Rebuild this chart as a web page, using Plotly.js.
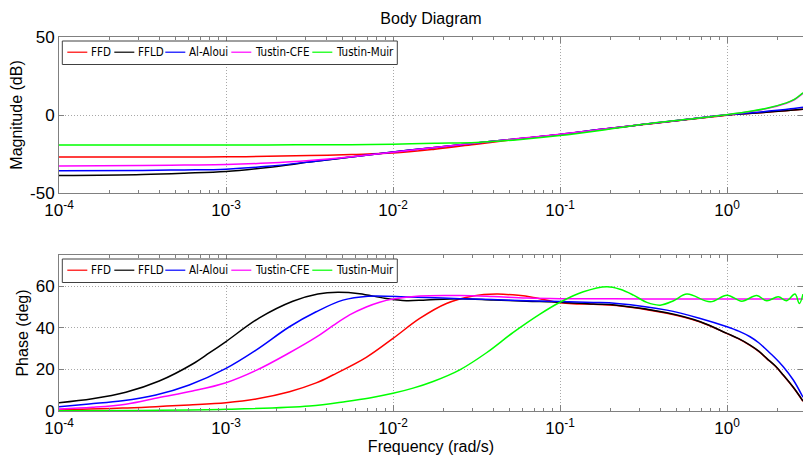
<!DOCTYPE html>
<html><head><meta charset="utf-8">
<script src="https://cdn.plot.ly/plotly-3.0.1.min.js"></script>
<style>html,body{margin:0;padding:0;background:#fff}#chart{width:803px;height:463px}</style>
</head><body><div id="chart"></div>
<script>
// ---- data ----
const seriesNames = ['FFD', 'FFLD', 'Al-Aloui', 'Tustin-CFE', 'Tustin-Muir'];
const seriesColors = ['#ff0000', '#000000', '#0000ff', '#ff00ff', '#00ff00'];

const xTickLogs = [-4, -3, -2, -1, 0];
const xTickText = ['10<sup>-4</sup>', '10<sup>-3</sup>', '10<sup>-2</sup>', '10<sup>-1</sup>', '10<sup>0</sup>'];
const magTickVals = [-50, 0, 50];
const magTickText = ['-50', '0', '50'];
const phaseTickVals = [0, 20, 40, 60];
const phaseTickText = ['0', '20', '40', '60'];

// magnitude (dB) on a shared log10(frequency) grid
const magLogW = [-4, -3.5, -3.25, -3, -2.75, -2.5, -2.25, -2, -1.75, -1.5, -1.25, -1, -0.75, -0.5, -0.25, 0, 0.15, 0.25, 0.35, 0.4, 0.455];
const magFFD        = [-27.0, -27.0, -26.9, -26.8, -26.5, -26.0, -25.3, -24.4, -21.9, -18.7, -15.4, -12.6, -9.3, -6.1, -3.1, -0.1, 1.1, 1.9, 2.8, 3.2, 3.7];
const magFFLD       = [-38.8, -38.1, -37.3, -36.2, -33.6, -30.2, -26.9, -23.7, -20.8, -17.9, -15.2, -12.5, -9.2, -6.0, -3.0, 0.0, 1.1, 1.9, 2.8, 3.2, 3.7];
const magAlAloui    = [-35.7, -35.5, -35.2, -34.7, -32.9, -30.1, -26.9, -23.7, -20.8, -17.9, -15.2, -12.5, -9.2, -6.0, -2.9, 0.1, 1.5, 2.5, 3.6, 4.2, 4.9];
const magTustinCFE  = [-32.7, -32.4, -32.1, -31.8, -30.8, -29.2, -26.8, -23.9, -20.9, -17.9, -15.1, -12.4, -9.2, -6.0, -2.9, 0.2, 2.4, 4.4, 7.4, 9.6, 14.0];
const magTustinMuir = [-19.2, -19.2, -19.2, -19.2, -19.2, -19.1, -19.0, -18.7, -18.1, -17.6, -15.8, -13.2, -9.8, -6.0, -2.9, 0.2, 2.5, 4.6, 7.6, 9.8, 14.2];

// phase (deg), each series on its own log10(frequency) grid
const phFFDLogW  = [-4, -3.82, -3.62, -3.42, -3.22, -3.0, -2.82, -2.62, -2.46, -2.36, -2.16, -2.0, -1.84, -1.68, -1.52, -1.38, -1.25, -1.16, -1.0, -0.9, -0.8, -0.66, -0.36, -0.16, 0, 0.07, 0.138, 0.19, 0.238, 0.29, 0.337, 0.397, 0.455];
const phFFD      = [0.5, 1.0, 1.4, 2.1, 2.9, 4.0, 5.8, 9.3, 13.5, 17.3, 25.8, 34.9, 44.5, 51.7, 55.3, 56.2, 55.6, 54.6, 52.0, 51.5, 51.3, 50.7, 47.0, 42.8, 37.2, 34.7, 31.6, 28.7, 25.2, 21.5, 17.2, 11.3, 4.7];
const phFFLDLogW = [-4, -3.8, -3.6, -3.4, -3.2, -3.1, -3.0, -2.8, -2.6, -2.45, -2.33, -2.2, -2.05, -1.92, -1.8, -1.6, -1.4, -1.2, -1.0, -0.8, -0.66, -0.36, -0.16, 0, 0.07, 0.138, 0.19, 0.238, 0.29, 0.337, 0.397, 0.455];
const phFFLD     = [4.0, 5.9, 9.0, 14.4, 22.6, 27.9, 33.4, 44.8, 52.8, 56.3, 57.1, 56.4, 54.2, 53.0, 53.4, 54.0, 53.4, 52.8, 52.3, 51.4, 50.9, 47.2, 42.9, 37.3, 34.8, 31.7, 28.8, 25.3, 21.6, 17.3, 11.4, 4.8];
const phAlAlouiLogW = [-4, -3.82, -3.62, -3.42, -3.22, -3.0, -2.82, -2.62, -2.46, -2.3, -2.15, -1.9, -1.6, -1.3, -1.0, -0.8, -0.66, -0.36, -0.16, 0, 0.07, 0.138, 0.19, 0.238, 0.29, 0.337, 0.397, 0.455];
const phAlAloui     = [2.1, 3.4, 4.9, 7.7, 12.5, 20.5, 29.3, 40.5, 47.7, 53.3, 55.2, 54.8, 54.0, 53.3, 52.6, 52.2, 51.7, 48.5, 44.5, 40.5, 38.4, 35.7, 32.8, 29.3, 25.4, 21.3, 14.9, 6.6];
const phTustinCFELogW = [-4, -3.8, -3.6, -3.4, -3.2, -3.0, -2.82, -2.62, -2.46, -2.36, -2.26, -2.16, -2.08, -2.0, -1.84, -1.6, -1.4, -1.2, -1.0, -0.5, 0, 0.455];
const phTustinCFE     = [1.0, 1.8, 3.3, 6.5, 9.6, 13.6, 19.5, 28.0, 35.5, 41.0, 46.2, 50.0, 52.3, 53.8, 55.3, 55.5, 55.0, 54.3, 54.0, 53.9, 53.9, 53.9];
const phTustinMuirLogW = [-4, -3.5, -3.0, -2.5, -2.28, -2.14, -2.0, -1.88, -1.76, -1.6, -1.44, -1.28, -1.12, -1.0, -0.86, -0.72, -0.64, -0.56, -0.48, -0.40, -0.32, -0.24, -0.10, 0.0, 0.088, 0.178, 0.238, 0.307, 0.357, 0.407, 0.433, 0.455];
const phTustinMuir     = [0.1, 0.3, 0.8, 2.4, 4.6, 6.3, 8.5, 11.0, 14.2, 19.8, 28.0, 37.8, 46.6, 52.3, 57.3, 59.7, 58.5, 55.7, 52.2, 50.9, 53.0, 56.2, 52.5, 55.7, 52.8, 55.5, 53.0, 54.9, 53.0, 56.2, 51.7, 56.2];

// ---- build ----
const toW = a => a.map(v => Math.pow(10, v));
const magSets = [
  [magLogW, magFFD], [magLogW, magFFLD], [magLogW, magAlAloui], [magLogW, magTustinCFE], [magLogW, magTustinMuir]
];
const phSets = [
  [phFFDLogW, phFFD], [phFFLDLogW, phFFLD], [phAlAlouiLogW, phAlAloui], [phTustinCFELogW, phTustinCFE], [phTustinMuirLogW, phTustinMuir]
];
const traces = [];
magSets.forEach((s, i) => traces.push({
  x: toW(s[0]), y: s[1], type: 'scatter', mode: 'lines', name: seriesNames[i], showlegend: false,
  line: {color: seriesColors[i], width: 1.5, shape: 'spline', smoothing: 1},
  xaxis: 'x', yaxis: 'y', hoverinfo: 'skip'
}));
phSets.forEach((s, i) => traces.push({
  x: toW(s[0]), y: s[1], type: 'scatter', mode: 'lines', name: seriesNames[i], showlegend: false,
  line: {color: seriesColors[i], width: 1.5, shape: 'spline', smoothing: 1},
  xaxis: 'x2', yaxis: 'y2', hoverinfo: 'skip'
}));

const minorVals = [];
for (let k = -4; k <= 0; k++) for (let m = 2; m <= 9; m++) minorVals.push(m * Math.pow(10, k));

// ---- geometry (px) ----
const W = 803, H = 463, L = 59, R = 0, T = 37, B = 52;
const plotW = W - L - R, plotH = H - T - B;
const px2x = p => (p - L) / plotW;
const px2y = p => (H - B - p) / plotH;

// legend drawn with shapes + annotations (compact MATLAB-style legend)
const legFamily = '"Liberation Sans Narrow", "DejaVu Sans Condensed", "Arial Narrow", sans-serif';
const legSize = 11.5;
const legBoxLeft = 62.3, legBoxW = 335, legBoxH = 23.5;
const legItems = [[5, 25, 28], [52, 72, 75], [103, 123, 126], [169, 189, 192], [250, 270, 273]];
const shapes = [], annotations = [];
[41, 259].forEach(top => {
  shapes.push({type: 'rect', xref: 'paper', yref: 'paper',
    x0: px2x(legBoxLeft), x1: px2x(legBoxLeft + legBoxW), y0: px2y(top), y1: px2y(top + legBoxH),
    line: {color: '#404040', width: 1}, fillcolor: '#ffffff', layer: 'above'});
  const ly = top + 11.2;
  legItems.forEach((it, i) => {
    shapes.push({type: 'line', xref: 'paper', yref: 'paper',
      x0: px2x(legBoxLeft + it[0]), x1: px2x(legBoxLeft + it[1]), y0: px2y(ly), y1: px2y(ly),
      line: {color: seriesColors[i], width: 1.2}, layer: 'above'});
    annotations.push({text: seriesNames[i], xref: 'paper', yref: 'paper', x: px2x(legBoxLeft + it[2]), y: px2y(ly),
      xanchor: 'left', yanchor: 'middle', showarrow: false, borderpad: 0,
      font: {family: legFamily, size: legSize, color: '#000'}});
  });
});

const axCol = '#808080';
const xBase = {
  type: 'log', range: [-4, 0.455], tickvals: toW(xTickLogs), ticktext: xTickText,
  ticks: 'inside', ticklen: 6, tickcolor: axCol, tickwidth: 1,
  showline: true, linecolor: axCol, linewidth: 1, mirror: 'ticks',
  showgrid: true, gridcolor: '#a8a8a8', griddash: '1px,2px', gridwidth: 1, zeroline: false,
  tickfont: {size: 17, color: '#000'}, ticklabelstandoff: 2,
  minor: {tickvals: minorVals, ticks: 'inside', ticklen: 3, tickcolor: axCol, showgrid: false}
};
const yBase = {
  ticks: 'inside', ticklen: 5, tickcolor: axCol, showline: true, linecolor: axCol, linewidth: 1, mirror: 'ticks',
  showgrid: true, gridcolor: '#a8a8a8', griddash: '1px,2px', zeroline: false, tickfont: {size: 17, color: '#000'}
};

const layout = {
  width: W, height: H,
  margin: {l: L, r: R, t: T, b: B},
  paper_bgcolor: '#fff', plot_bgcolor: '#fff',
  font: {family: '"Liberation Sans", Arial, sans-serif', size: 16, color: '#000'},
  title: {text: 'Body Diagram', x: 0.5, xref: 'paper', y: 0.961, yref: 'container', yanchor: 'middle', font: {size: 16}},
  showlegend: false,
  xaxis: Object.assign({}, xBase, {domain: [0, 1], anchor: 'y'}),
  yaxis: Object.assign({}, yBase, {domain: [px2y(193), 1], range: [-50, 50], tickvals: magTickVals, ticktext: magTickText,
    title: {text: 'Magnitude (dB)', font: {size: 16}, standoff: 3}}),
  xaxis2: Object.assign({}, xBase, {domain: [0, 1], anchor: 'y2', title: {text: 'Frequency (rad/s)', font: {size: 16}, standoff: 3}}),
  yaxis2: Object.assign({}, yBase, {domain: [0, px2y(255)], range: [0, 75], tickvals: phaseTickVals, ticktext: phaseTickText,
    title: {text: 'Phase (deg)', font: {size: 16}, standoff: 3}}),
  shapes: shapes,
  annotations: annotations
};

Plotly.newPlot('chart', traces, layout, {displayModeBar: false, staticPlot: true});
</script>
</body></html>
